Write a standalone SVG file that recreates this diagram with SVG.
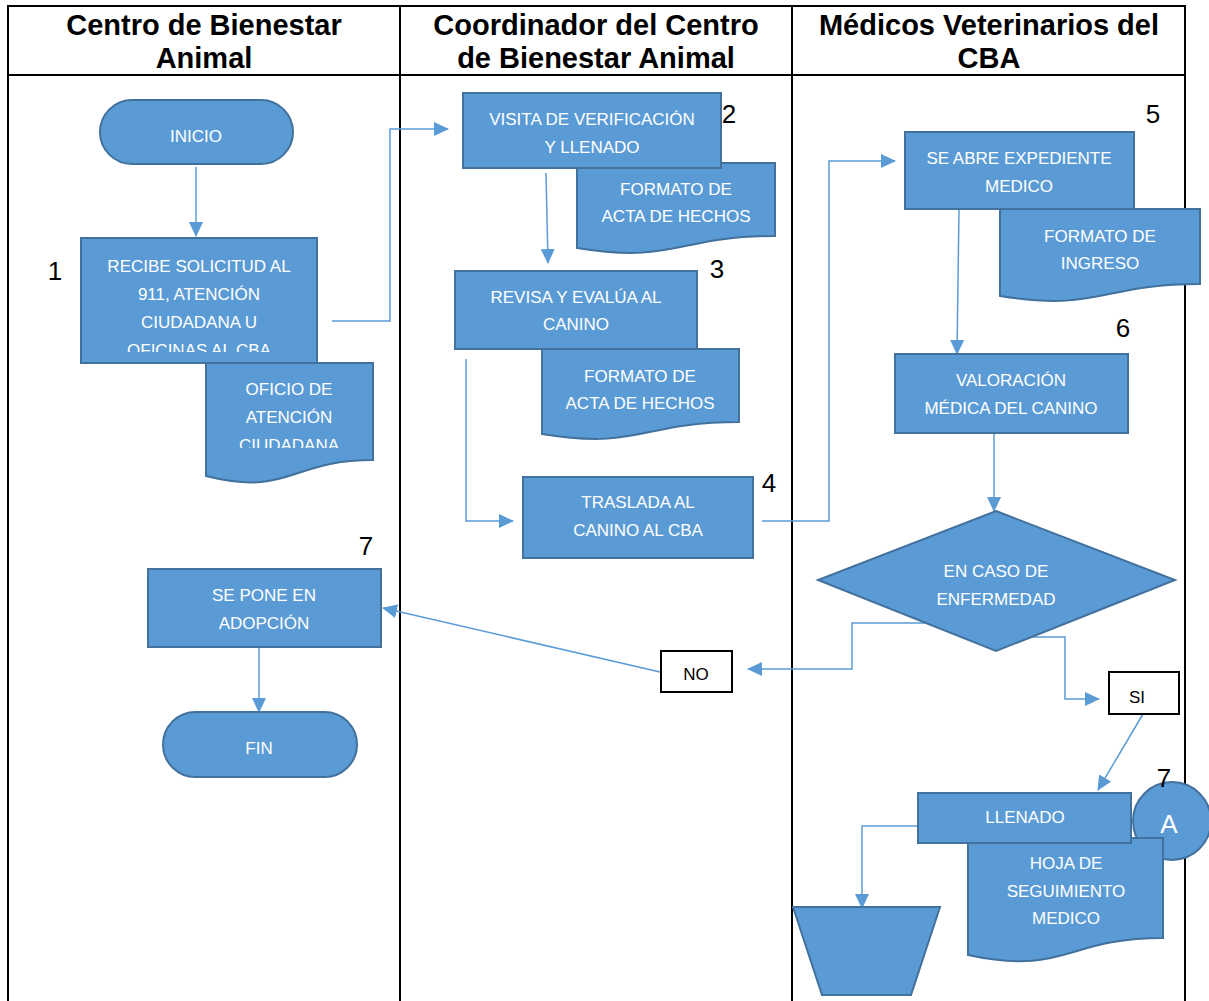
<svg xmlns="http://www.w3.org/2000/svg" width="1209" height="1001" viewBox="0 0 1209 1001">
<style>
.hd{font-family:"Liberation Sans",Arial,sans-serif;font-weight:bold;font-size:29px;fill:#000;text-anchor:middle}
.sh{fill:#5B9BD5;stroke:#41719C;stroke-width:2}
.tx{font-family:"Liberation Sans",Arial,sans-serif;font-size:17px;fill:#fff;text-anchor:middle}
.num{font-family:"Liberation Sans",Arial,sans-serif;font-size:26px;fill:#000;text-anchor:middle}
.lb{fill:#fff;stroke:#000;stroke-width:2}
.lt{font-family:"Liberation Sans",Arial,sans-serif;font-size:17px;fill:#000;text-anchor:middle}
.cn{fill:none;stroke:#5B9BD5;stroke-width:1.5}
.grid{fill:none;stroke:#000;stroke-width:2}
</style>
<defs>
<marker id="ar" markerUnits="userSpaceOnUse" markerWidth="15" markerHeight="14" refX="14" refY="7" orient="auto">
<path d="M0,0 L15,7 L0,14 Z" fill="#5B9BD5"/>
</marker>
<clipPath id="c1"><rect x="81" y="238" width="236" height="114"/></clipPath>
<clipPath id="c2"><rect x="206" y="363" width="167" height="85"/></clipPath>
</defs>
<rect x="0" y="0" width="1209" height="1001" fill="#fff"/>
<g id="lanes">
<path class="grid" d="M8,1003 V6 H1185 V1003 M8,75 H1185 M400,6 V1003 M792,6 V1003"/>
<text class="hd" x="204" y="35">Centro de Bienestar</text>
<text class="hd" x="204" y="68">Animal</text>
<text class="hd" x="596" y="35">Coordinador del Centro</text>
<text class="hd" x="596" y="68">de Bienestar Animal</text>
<text class="hd" x="989" y="35">Médicos Veterinarios del</text>
<text class="hd" x="989" y="68">CBA</text>
</g>
<g id="connectors">
<path class="cn" marker-end="url(#ar)" d="M196,167 V236"/>
<path class="cn" marker-end="url(#ar)" d="M332,321 H390 V129 H448"/>
<path class="cn" marker-end="url(#ar)" d="M546,173 L548,263"/>
<path class="cn" marker-end="url(#ar)" d="M466,359 V521 H513"/>
<path class="cn" marker-end="url(#ar)" d="M762,521 H829 V161 H895"/>
<path class="cn" marker-end="url(#ar)" d="M959,209 L957,354"/>
<path class="cn" marker-end="url(#ar)" d="M994,433 V511"/>
<path class="cn" marker-end="url(#ar)" d="M925,623 H852 V669 H748"/>
<path class="cn" marker-end="url(#ar)" d="M660,672 L383,608"/>
<path class="cn" marker-end="url(#ar)" d="M1030,637 H1065 V699 H1099"/>
<path class="cn" marker-end="url(#ar)" d="M1143,714 L1098,790"/>
<path class="cn" marker-end="url(#ar)" d="M259,648 V712"/>
<path class="cn" marker-end="url(#ar)" d="M918,826 H862 V908"/>
</g>
<g id="inicio">
<rect class="sh" x="100" y="100" width="193" height="64" rx="32"/>
<text class="tx" x="196" y="142">INICIO</text>
</g>
<g id="oficio">
<path class="sh" d="M206,363 H373 V460 C289.5,460 289.5,497 206,476 Z"/>
<g clip-path="url(#c2)">
<text class="tx" x="289" y="395">OFICIO DE</text>
<text class="tx" x="289" y="423">ATENCIÓN</text>
<text class="tx" x="289" y="451">CIUDADANA</text>
</g>
</g>
<g id="step1">
<rect class="sh" x="81" y="238" width="236" height="125"/>
<g clip-path="url(#c1)">
<text class="tx" x="199" y="272">RECIBE SOLICITUD AL</text>
<text class="tx" x="199" y="300">911, ATENCIÓN</text>
<text class="tx" x="199" y="328">CIUDADANA U</text>
<text class="tx" x="199" y="356">OFICINAS AL CBA</text>
</g>
<text class="num" x="55" y="280">1</text>
</g>
<g id="acta1">
<path class="sh" d="M577,163 H775 V236 C676,236 676,264 577,248 Z"/>
<text class="tx" x="676" y="195">FORMATO DE</text>
<text class="tx" x="676" y="222">ACTA DE HECHOS</text>
</g>
<g id="step2">
<rect class="sh" x="463" y="93" width="258" height="75"/>
<text class="tx" x="592" y="125">VISITA DE VERIFICACIÓN</text>
<text class="tx" x="592" y="153">Y LLENADO</text>
<text class="num" x="729" y="123">2</text>
</g>
<g id="acta2">
<path class="sh" d="M542,349 H739 V422 C640.5,422 640.5,450 542,434 Z"/>
<text class="tx" x="640" y="382">FORMATO DE</text>
<text class="tx" x="640" y="409">ACTA DE HECHOS</text>
</g>
<g id="step3">
<rect class="sh" x="455" y="271" width="242" height="78"/>
<text class="tx" x="576" y="303">REVISA Y EVALÚA AL</text>
<text class="tx" x="576" y="330">CANINO</text>
<text class="num" x="717" y="278">3</text>
</g>
<g id="step4">
<rect class="sh" x="523" y="477" width="230" height="81"/>
<text class="tx" x="638" y="508">TRASLADA AL</text>
<text class="tx" x="638" y="536">CANINO AL CBA</text>
<text class="num" x="769" y="492">4</text>
</g>
<g id="ingreso">
<path class="sh" d="M1000,209 H1200 V284 C1100,284 1100,312 1000,296 Z"/>
<text class="tx" x="1100" y="242">FORMATO DE</text>
<text class="tx" x="1100" y="269">INGRESO</text>
</g>
<g id="step5">
<rect class="sh" x="905" y="132" width="229" height="77"/>
<text class="tx" x="1019" y="164">SE ABRE EXPEDIENTE</text>
<text class="tx" x="1019" y="192">MEDICO</text>
<text class="num" x="1153" y="123">5</text>
</g>
<g id="step6">
<rect class="sh" x="895" y="354" width="233" height="79"/>
<text class="tx" x="1011" y="386">VALORACIÓN</text>
<text class="tx" x="1011" y="414">MÉDICA DEL CANINO</text>
<text class="num" x="1123" y="337">6</text>
</g>
<g id="decision">
<path class="sh" d="M996,511 L1175,580 L996,651 L818,580 Z"/>
<text class="tx" x="996" y="577">EN CASO DE</text>
<text class="tx" x="996" y="605">ENFERMEDAD</text>
</g>
<g id="no">
<rect class="lb" x="661" y="651" width="71" height="41"/>
<text class="lt" x="696" y="680">NO</text>
</g>
<g id="si">
<rect class="lb" x="1109" y="672" width="70" height="42"/>
<text class="lt" x="1137" y="703">SI</text>
</g>
<g id="step7a">
<rect class="sh" x="148" y="569" width="233" height="78"/>
<text class="tx" x="264" y="601">SE PONE EN</text>
<text class="tx" x="264" y="629">ADOPCIÓN</text>
<text class="num" x="366" y="555">7</text>
</g>
<g id="fin">
<rect class="sh" x="163" y="712" width="194" height="65" rx="32.5"/>
<text class="tx" x="259" y="754">FIN</text>
</g>
<g id="conectorA">
<circle class="sh" cx="1172" cy="821" r="39"/>
<text class="tx" x="1169" y="833" style="font-size:26px">A</text>
</g>
<g id="hoja">
<path class="sh" d="M968,838 H1163 V938 C1065.5,938 1065.5,976 968,955 Z"/>
<text class="tx" x="1066" y="869">HOJA DE</text>
<text class="tx" x="1066" y="897">SEGUIMIENTO</text>
<text class="tx" x="1066" y="924">MEDICO</text>
</g>
<g id="llenado">
<rect class="sh" x="918" y="793" width="213" height="50"/>
<text class="tx" x="1025" y="823">LLENADO</text>
<text class="num" x="1164" y="787">7</text>
</g>
<g id="manual">
<path class="sh" d="M793,907 H940 L911,995 H822 Z"/>
</g>
</svg>
